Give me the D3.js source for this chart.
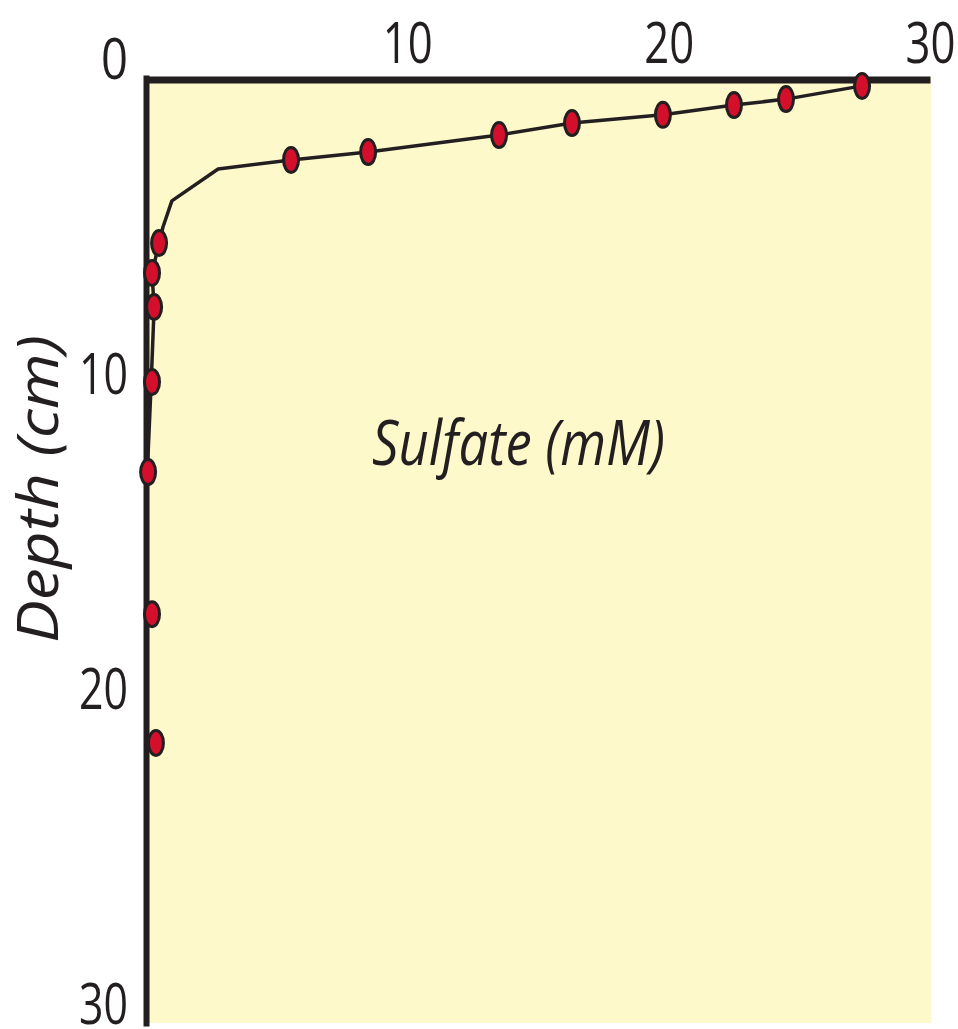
<!DOCTYPE html>
<html>
<head>
<meta charset="utf-8">
<script src="https://cdn.jsdelivr.net/npm/d3@7"></script>
<style>
  html, body { margin: 0; padding: 0; background: #ffffff; }
  svg { display: block; }
</style>
</head>
<body>
<script>
// ---- data ----
const sulfate = [27.40, 24.49, 22.50, 19.78, 16.30, 13.51, 8.50, 5.55, 0.50, 0.23, 0.31, 0.23, 0.08, 0.23, 0.38];
const depth   = [0.25, 0.67, 0.86, 1.17, 1.43, 1.81, 2.35, 2.60, 5.24, 6.19, 7.27, 9.65, 12.51, 17.02, 21.11];
// drawn profile line (passes through the samples, with its bends)
const lineSulfate = [27.40, 24.49, 22.50, 19.78, 16.30, 13.51, 8.50, 5.55, 2.76, 0.99, 0.65, 0.50, 0.23, 0.31, 0.20, 0.05, 0.05];
const lineDepth   = [0.25, 0.67, 0.86, 1.17, 1.43, 1.81, 2.35, 2.60, 2.89, 3.90, 4.73, 5.24, 6.19, 7.27, 9.65, 12.5, 30];
const xTicks = [10, 20, 30];
const yTicks = [0, 10, 20, 30];
const xTitle = "Sulfate (mM)";
const yTitle = "Depth (cm)";

(function () {
const W = 958, H = 1029;
const mLeft = 146, mRight = 930, mTop = 78, mBottom = 1023;
const ink = "#231f20";

const svg = d3.select("body").append("svg").attr("width", W).attr("height", H);

const x = d3.scaleLinear().domain([0, 30]).range([mLeft, mRight]);
const y = d3.scaleLinear().domain([0, 30]).range([mTop, mBottom]);

// plot background
svg.append("rect")
  .attr("x", mLeft).attr("y", mTop)
  .attr("width", mRight - mLeft + 1).attr("height", mBottom - mTop)
  .attr("fill", "#fef9cb");

// axes
const font = "'Open Sans', 'Noto Sans', sans-serif";
const xAxis = svg.append("g").attr("transform", `translate(0,${mTop + 1.5})`)
  .call(d3.axisTop(x).tickValues(xTicks).tickSize(0).tickSizeOuter(0).tickPadding(17).tickFormat(d3.format("d")));
xAxis.select(".domain").attr("stroke", ink).attr("stroke-width", 7);
xAxis.selectAll("text")
  .attr("font-family", font).attr("font-size", 56).attr("fill", ink)
  .attr("textLength", 50).attr("lengthAdjust", "spacingAndGlyphs");

const yAxis = svg.append("g").attr("transform", `translate(${mLeft},0)`)
  .call(d3.axisLeft(y).tickValues(yTicks).tickSize(0).tickSizeOuter(0).tickPadding(18).tickFormat(d3.format("d")));
yAxis.select(".domain").attr("stroke", ink).attr("stroke-width", 6).attr("stroke-linecap", "square");
yAxis.selectAll("text")
  .attr("dy", "0em")
  .attr("font-family", font).attr("font-size", 56).attr("fill", ink)
  .attr("textLength", d => d < 10 ? 27 : 49).attr("lengthAdjust", "spacingAndGlyphs");

// profile line
const pts = lineSulfate.map((s, i) => [s, lineDepth[i]]);
svg.append("path")
  .datum(pts)
  .attr("fill", "none")
  .attr("stroke", ink)
  .attr("stroke-width", 3.5)
  .attr("stroke-linejoin", "round")
  .attr("d", d3.line().x(d => x(d[0])).y(d => y(d[1])));

// sample points
svg.append("g").selectAll("ellipse")
  .data(sulfate.map((s, i) => ({ s, d: depth[i] })))
  .join("ellipse")
  .attr("cx", d => x(d.s)).attr("cy", d => y(d.d))
  .attr("rx", 7.5).attr("ry", 12.5)
  .attr("fill", "#d40f2c")
  .attr("stroke", ink).attr("stroke-width", 3);

// titles
svg.append("text")
  .attr("x", 372).attr("y", 465)
  .attr("font-family", font).attr("font-style", "italic")
  .attr("font-size", 62).attr("fill", ink)
  .attr("textLength", 293).attr("lengthAdjust", "spacingAndGlyphs")
  .text(xTitle);

svg.append("text")
  .attr("transform", "translate(58,643) rotate(-90)")
  .attr("font-family", font).attr("font-style", "italic")
  .attr("font-size", 56).attr("fill", ink)
  .attr("textLength", 308).attr("lengthAdjust", "spacingAndGlyphs")
  .text(yTitle);
})();
</script>
</body>
</html>
